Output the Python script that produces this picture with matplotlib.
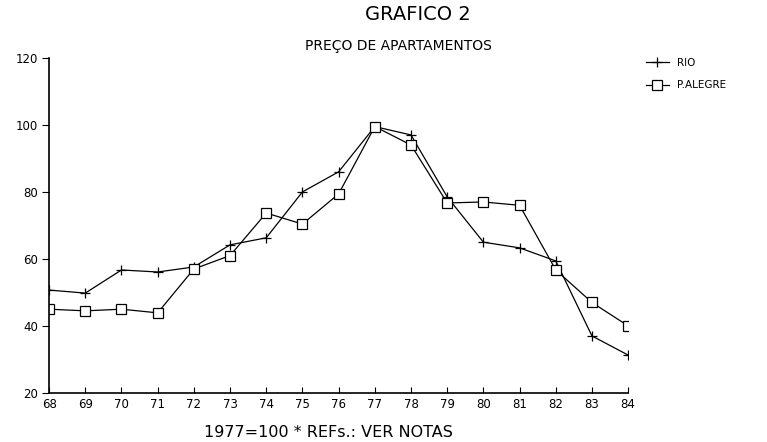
import matplotlib.pyplot as plt

# dados (1977 = 100)
anos = ["68", "69", "70", "71", "72", "73", "74", "75", "76",
        "77", "78", "79", "80", "81", "82", "83", "84"]
rio = [50.7, 49.8, 56.7, 56.1, 57.6, 64.2, 66.3, 80.0, 86.0,
       99.5, 97.0, 78.5, 65.0, 63.3, 59.4, 37.0, 31.3]
p_alegre = [45.0, 44.5, 45.0, 43.9, 57.0, 61.0, 73.7, 70.4, 79.4,
            99.5, 94.0, 76.7, 77.0, 76.0, 56.7, 47.0, 40.0]
y_ticks = [20, 40, 60, 80, 100, 120]

plt.rcParams['font.family'] = ['DejaVu Sans']

fig = plt.figure(figsize=(7.67, 4.42), dpi=100)
ax = fig.add_axes([0.064, 0.111, 0.755, 0.758])

x = list(range(len(anos)))
ax.plot(x, rio, color="black", lw=0.9, marker="+", ms=7, mew=0.9, label="RIO")
ax.plot(x, p_alegre, color="black", lw=0.9, marker="s", ms=6.5, mew=0.9,
        mfc="white", label="P.ALEGRE")

ax.set_xlim(0, len(anos) - 1)
ax.set_ylim(20, 120)
ax.set_xticks(x)
ax.set_xticklabels(anos)
ax.set_yticks(y_ticks)
ax.spines["top"].set_visible(False)
ax.spines["right"].set_visible(False)
ax.spines["left"].set_linewidth(1.2)
ax.spines["bottom"].set_linewidth(1.2)
ax.tick_params(axis="x", direction="in", length=4, labelsize=8.5, pad=4)
ax.tick_params(axis="y", direction="out", length=5, labelsize=8.5, pad=3)

fig.text(0.545, 0.968, "GRAFICO 2", ha="center", va="center", fontsize=14)
fig.text(0.519, 0.896, "PREÇO DE APARTAMENTOS", ha="center", va="center", fontsize=10)
fig.text(0.428, 0.022, "1977=100 * REFs.: VER NOTAS", ha="center", va="center", fontsize=11.5)

fig.legend(loc="upper left", bbox_to_anchor=(0.83, 0.89), frameon=False,
           fontsize=7.5, handlelength=2.2, labelspacing=1.2)

fig.savefig("out.png", dpi=100)
